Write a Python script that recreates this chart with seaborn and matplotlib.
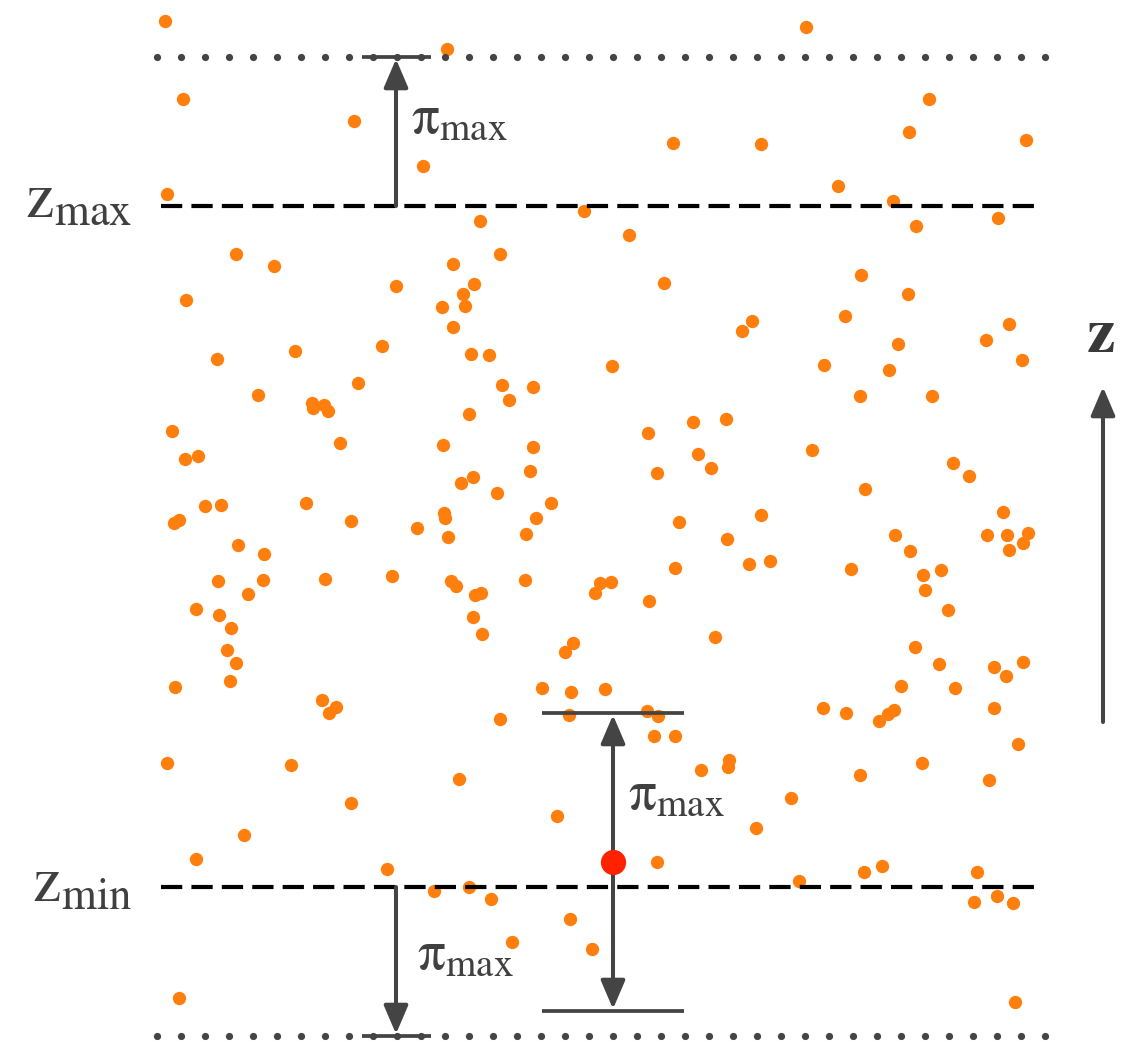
import matplotlib
matplotlib.use("Agg")
import matplotlib.pyplot as plt
import numpy as np
import pandas as pd
import seaborn as sns

# ---------------- data (pixel-space coordinates of the diagram) ----------------
W, H = 1141, 1044
z_max = 206          # upper boundary
z_min = 887          # lower boundary
pi_max = 149         # maximal displacement
dot_left, dot_right, dot_step = 157, 1045, 24
dash_left, dash_right = 161, 1037

particle_x = [165, 447, 183, 354, 423, 167, 584, 480, 236, 500, 274, 453, 396, 474, 463, 465,
              442, 186, 453, 295, 382, 471, 489,
              806, 929, 909, 1026, 673, 761, 838, 893, 629, 916, 998, 664, 861, 908, 752, 742,
              845, 1009, 986, 898,
              217, 358, 258, 502, 533, 509, 312, 313, 324, 328, 469, 172, 340, 443, 533, 185,
              198, 530, 473, 461, 497, 306, 205, 221, 551, 174, 179, 351, 444, 445, 536, 417,
              448, 526, 238, 264, 218, 263, 325, 392, 451, 456, 475, 481, 525, 248, 196, 219,
              231, 473, 482, 227, 236, 573, 565, 175, 230, 542, 571, 605,
              612, 824, 889, 1022, 860, 932, 648, 693, 726, 698, 711, 657, 812, 953, 969, 865,
              1003, 679, 761, 727, 895, 910, 987, 1007, 1028, 1023, 1009, 675, 749, 770, 851,
              923, 941, 925, 948, 595, 600, 611, 649, 715, 915, 939, 994, 1006, 1023, 901, 955,
              322, 336, 329, 500, 569, 167, 291, 459, 351, 557, 244, 196, 387, 434, 469, 491,
              570, 512, 592, 179,
              647, 658, 654, 675, 823, 846, 879, 888, 894, 994, 1018, 701, 729, 728, 860, 922,
              989, 791, 756, 657, 799, 864, 882, 977, 974, 997, 1013, 1015]
particle_y = [21, 49, 99, 121, 166, 194, 211, 221, 254, 254, 266, 264, 286, 284, 294, 306,
              307, 300, 327, 351, 346, 354, 355,
              27, 99, 132, 140, 143, 144, 186, 201, 235, 226, 218, 283, 275, 294, 321, 331,
              316, 324, 340, 344,
              359, 383, 395, 385, 387, 400, 403, 408, 405, 411, 414, 431, 443, 445, 447, 459,
              456, 471, 477, 483, 493, 503, 506, 505, 503, 523, 520, 521, 513, 518, 518, 528,
              537, 534, 545, 554, 581, 580, 579, 576, 581, 586, 595, 593, 580, 594, 609, 615,
              628, 617, 634, 650, 663, 643, 652, 687, 681, 688, 692, 689,
              366, 365, 370, 360, 396, 396, 433, 422, 419, 454, 468, 473, 450, 463, 476, 489,
              512, 522, 515, 539, 535, 551, 535, 535, 533, 543, 550, 568, 564, 561, 569,
              575, 570, 590, 610, 593, 583, 582, 601, 637, 647, 664, 667, 676, 662, 686, 688,
              700, 707, 713, 719, 715, 763, 765, 779, 803, 816, 835, 859, 869, 891, 887, 899,
              919, 942, 949, 998,
              711, 716, 736, 736, 708, 713, 721, 714, 710, 708, 744, 770, 760, 767, 775, 763,
              780, 798, 828, 862, 881, 872, 866, 872, 902, 896, 903, 1002]
focus_x = [613]
focus_y = [862]

label_color = "#404040"
arrow_color = "#444444"

# ---------------- style ----------------
sns.set_theme(style="white")
plt.rcParams["font.family"] = ["DejaVu Sans"]
plt.rcParams["mathtext.fontset"] = "stix"

fig = plt.figure(figsize=(W / 100, H / 100), dpi=100)
ax = fig.add_axes([0, 0, 1, 1])

particles = pd.DataFrame({"x": particle_x, "y": particle_y})
focus = pd.DataFrame({"x": focus_x, "y": focus_y})

sns.scatterplot(data=particles, x="x", y="y", ax=ax, color="#ff7f0e", s=92,
                linewidth=0, legend=False, zorder=2)

# boundaries
for zb in (z_max, z_min):
    ax.plot([dash_left, dash_right], [zb, zb], color="black", lw=3.0,
            linestyle=(0, (5.1, 2.2)), dash_capstyle="butt", zorder=3)
dot_xs = np.arange(dot_left, dot_right + 1, dot_step)
for zd in (z_max - pi_max, z_min + pi_max):
    ax.plot(dot_xs, np.full(len(dot_xs), zd), linestyle="none", marker="o",
            markersize=5.2, markeredgewidth=0, color=arrow_color, zorder=3)

arrow_kw = dict(color=arrow_color, lw=2.9, shrinkA=0, shrinkB=0, mutation_scale=12)
head = "head_length=1.45,head_width=0.62"

# top arrow (z_max -> z_max + pi_max)
xa = 396
ax.annotate("", xy=(xa, z_max - pi_max + 2), xytext=(xa, z_max),
            arrowprops=dict(arrowstyle="-|>," + head, **arrow_kw), zorder=4)
ax.plot([xa - 34, xa + 35], [z_max - pi_max] * 2, color=arrow_color, lw=2.7,
        solid_capstyle="butt", zorder=4)

# bottom arrow (z_min -> z_min - pi_max)
ax.annotate("", xy=(xa, z_min + pi_max - 2), xytext=(xa, z_min),
            arrowprops=dict(arrowstyle="-|>," + head, **arrow_kw), zorder=4)
ax.plot([xa - 34, xa + 35], [z_min + pi_max] * 2, color=arrow_color, lw=2.7,
        solid_capstyle="butt", zorder=4)

# double arrow around the focus particle
fx, fy = focus_x[0], focus_y[0]
ax.annotate("", xy=(fx, fy - pi_max + 2), xytext=(fx, fy + pi_max - 2),
            arrowprops=dict(arrowstyle="<|-|>," + head, **arrow_kw), zorder=4)
for yc in (fy - pi_max, fy + pi_max):
    ax.plot([fx - 71, fx + 71], [yc, yc], color=arrow_color, lw=2.7,
            solid_capstyle="butt", zorder=4)

sns.scatterplot(data=focus, x="x", y="y", ax=ax, color="#ff2200", s=330,
                linewidth=0, legend=False, zorder=5)

# z-direction arrow
ax.annotate("", xy=(1103, 387), xytext=(1103, 722),
            arrowprops=dict(arrowstyle="-|>," + head, **arrow_kw), zorder=4)

# labels
ax.text(132, 217, r"$\mathrm{z}_{\mathrm{max}}$", fontsize=46, color=label_color,
        ha="right", va="baseline")
ax.text(132, 902, r"$\mathrm{z}_{\mathrm{min}}$", fontsize=46, color=label_color,
        ha="right", va="baseline")
for (tx, ty) in [(411, 133), (628, 808), (417, 968)]:
    ax.text(tx, ty, r"$\mathrm{π}_{\mathrm{max}}$", fontsize=40, color=label_color,
            ha="left", va="baseline")
ax.text(1100, 352, r"$\mathbf{z}$", fontsize=46, color="#3a3a3a", ha="center", va="baseline")

ax.set_xlim(0, W)
ax.set_ylim(H, 0)
ax.axis("off")

fig.savefig("out.png", dpi=100, facecolor="white")
